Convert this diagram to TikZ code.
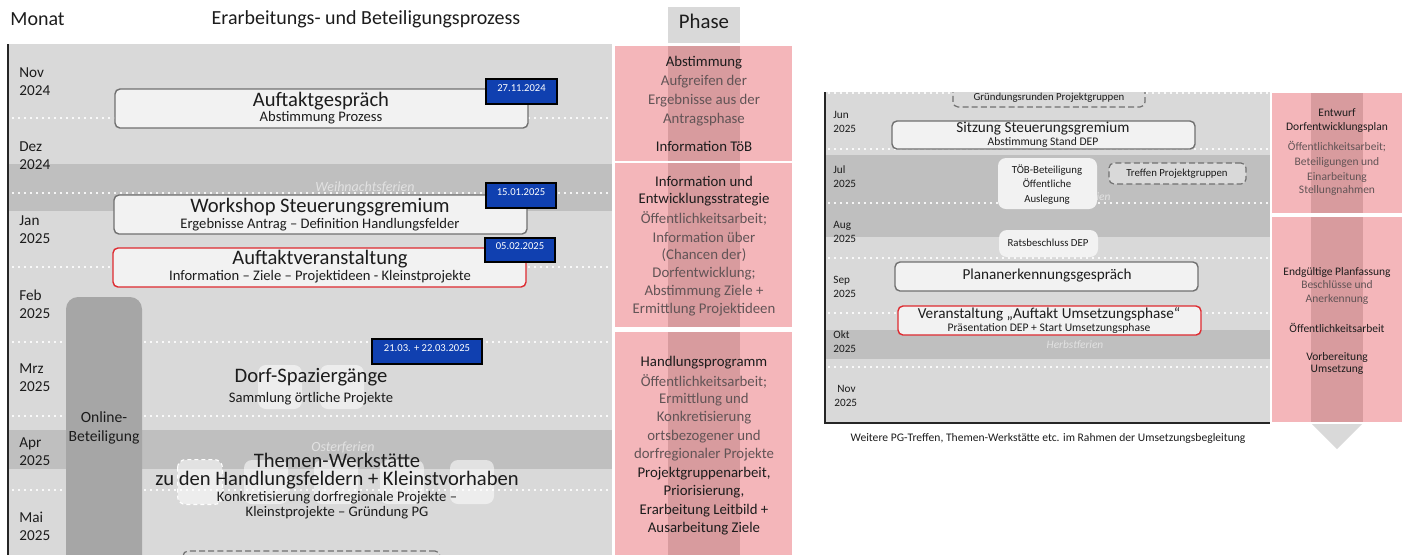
\documentclass[tikz,border=0pt]{standalone}
\usepackage{fontspec}
\setmainfont{Carlito}
\usetikzlibrary{fit}
\definecolor{panel}{RGB}{217,217,217}
\definecolor{band}{RGB}{191,191,191}
\definecolor{boxfill}{RGB}{242,242,242}
\definecolor{boxline}{RGB}{112,112,112}
\definecolor{redline}{RGB}{222,42,48}
\definecolor{dateblue}{RGB}{16,64,176}
\definecolor{online}{RGB}{166,166,166}
\definecolor{pinkbox}{RGB}{244,182,186}
\definecolor{pinkdark}{RGB}{216,155,158}
\definecolor{txt}{RGB}{28,28,28}
\definecolor{txtlight}{RGB}{98,84,86}
\definecolor{ferien}{RGB}{226,226,226}
\newcommand\fsz[2]{\fontsize{#1}{#2}\selectfont}
\begin{document}
\begin{tikzpicture}[x=0.5pt,y=-0.5pt,
  box/.style={draw=boxline, fill=boxfill, rounded corners=2.5pt, line width=0.7pt, inner sep=0pt},
  redbox/.style={box, draw=redline},
  datebox/.style={draw=black, fill=dateblue, line width=0.8pt, inner sep=0pt, text=white, font=\fsz{5.3pt}{6pt}},
  softbox/.style={fill=boxfill, rounded corners=4pt, inner sep=0pt},
  ghost/.style={fill=white, fill opacity=0.55, rounded corners=4pt, inner sep=0pt},
  dashbox/.style={draw=boxline, fill=panel, dash pattern=on 3pt off 1.6pt, rounded corners=2.5pt, line width=0.6pt, inner sep=0pt},
  dotline/.style={white, line width=0.9pt, dash pattern=on 0.9pt off 2.1pt, opacity=0.85},
  head/.style={font=\fsz{10pt}{12pt}, text=txt, inner sep=0pt},
  mon/.style={anchor=west, align=left, font=\fsz{7.6pt}{9pt}, text=txt, inner sep=0pt},
  monR/.style={anchor=west, align=left, font=\fsz{5.6pt}{7pt}, text=txt, inner sep=0pt},
  tA/.style={font=\fsz{10.3pt}{12pt}, text=txt, inner sep=0pt},
  tB/.style={font=\fsz{7.3pt}{9pt}, text=txt, inner sep=0pt},
  tC/.style={font=\fsz{7.6pt}{9pt}, text=txt, inner sep=0pt},
  tD/.style={font=\fsz{5.8pt}{7pt}, text=txt, inner sep=0pt},
  tE/.style={font=\fsz{5.4pt}{7pt}, text=txt, inner sep=0pt},
  fer/.style={font=\fsz{7pt}{8pt}\itshape, text=ferien, inner sep=0pt},
  ferR/.style={font=\fsz{5.7pt}{7pt}\itshape, text=ferien, inner sep=0pt},
  ph/.style={font=\fsz{7.4pt}{9pt}, text=txt, inner sep=0pt},
  phl/.style={ph, text=txtlight},
  pr/.style={font=\fsz{5.75pt}{7pt}, text=txt, inner sep=0pt},
  prl/.style={pr, text=txtlight}
]
\useasboundingbox (0,0) rectangle (1404,554);
\clip (0,0) rectangle (1404,554);

% ---------- headers ----------
\node[head, anchor=west] (hMonat) at (10,19) {Monat};
\node[head] (hProz) at (366,19) {Erarbeitungs- und Beteiligungsprozess};
\fill[panel] (668,7) rectangle (740,43);
\node[head, font=\fsz{10.4pt}{12pt}] (hPhase) at (704,21) {Phase};

% ---------- left panel ----------
\fill[panel] (9,44) rectangle (612,560);
\fill[band] (9,164) rectangle (612,211);
\fill[band] (9,430) rectangle (612,469);
\draw[line width=1pt, black!85] (8,44) -- (8,560);
\foreach \yy in {118,193,267,342,416,490} \draw[dotline] (12,\yy) -- (612,\yy);

\node[mon] (mNov) at (19,82) {Nov\\2024};
\node[mon] (mDez) at (19,156) {Dez\\2024};
\node[mon] (mJan) at (19,230) {Jan\\2025};
\node[mon] (mFeb) at (19,304) {Feb\\2025};
\node[mon] (mMrz) at (19,378) {Mrz\\2025};
\node[mon] (mApr) at (19,452) {Apr\\2025};
\node[mon] (mMai) at (19,526) {Mai\\2025};

\node[fer] (fW) at (365,187) {Weihnachtsferien};
\node[fer] (fO) at (343,447) {Osterferien};

% Online-Beteiligung
\node[fill=online, rounded corners=6pt, inner sep=0pt, fit={(66,297) (142,620)}] (online) {};
\node[font=\fsz{7.8pt}{9.5pt}, text=txt, inner sep=0pt, align=center] (onl) at (104,428) {Online-\\Beteiligung};

% Auftaktgespraech
\node[box, fit={(115,89) (528,128)}] (b1) {};
\node[tA] (b1t) at (321,101) {Auftaktgespräch};
\node[tB] (b1s) at (321,118) {Abstimmung Prozess};
\node[datebox, fit={(486,79) (557,104)}] (d1) {27.11.2024};

% Workshop
\node[box, fit={(114,195) (527,234)}] (b2) {};
\node[tA] (b2t) at (320,207) {Workshop Steuerungsgremium};
\node[tB] (b2s) at (320,225) {Ergebnisse Antrag – Definition Handlungsfelder};
\node[datebox, fit={(486,183) (556,208)}] (d2) {15.01.2025};

% Auftaktveranstaltung
\node[redbox, fit={(113,248) (526,287)}] (b3) {};
\node[tA] (b3t) at (320,259) {Auftaktveranstaltung};
\node[tB] (b3s) at (320,277) {Information – Ziele – Projektideen - Kleinstprojekte};
\node[datebox, fit={(485,238) (555,262)}] (d3) {05.02.2025};

% Dorf-Spaziergaenge
\node[ghost, fit={(258,365) (302,409)}] (g1) {};
\node[ghost, fit={(320,365) (364,409)}] (g2) {};
\node[datebox, fit={(372,339) (482,364)}] (d4) {21.03. + 22.03.2025};
\node[tA] (b4t) at (311,377) {Dorf-Spaziergänge};
\node[tB] (b4s) at (311,399) {Sammlung örtliche Projekte};

% Themen-Werkstaette
\node[ghost, fit={(178,460) (222,504)}] (g3) {};
\draw[white, dash pattern=on 2pt off 1.5pt, line width=0.6pt, rounded corners=4pt] (g3.north west) rectangle (g3.south east);
\node[ghost, fit={(244,460) (288,504)}] (g4) {};
\node[ghost, fit={(314,460) (358,504)}] (g5) {};
\node[ghost, fit={(380,460) (424,504)}] (g6) {};
\node[ghost, fit={(450,460) (494,504)}] (g7) {};
\node[tA, align=center, font=\fsz{10.3pt}{9pt}] (b5t) at (337,471) {Themen-Werkstätte\\zu den Handlungsfeldern + Kleinstvorhaben};
\node[tB, align=center, font=\fsz{7.3pt}{7.5pt}] (b5s) at (337,505.5) {Konkretisierung dorfregionale Projekte –\\Kleinstprojekte – Gründung PG};

\node[dashbox, fit={(183,551) (440,590)}] (b6) {};

% ---------- left phase column ----------
\fill[pinkbox] (615,46) rectangle (792,161);
\fill[pinkdark] (668,46) rectangle (740,161);
\fill[pinkbox] (615,163) rectangle (792,327);
\fill[pinkdark] (668,163) rectangle (740,327);
\fill[pinkbox] (615,332) rectangle (792,600);
\fill[pinkdark] (668,332) rectangle (740,600);

\node[ph] (p1a) at (704,63) {Abstimmung};
\node[phl] (p1b) at (704,82) {Aufgreifen der};
\node[phl] (p1c) at (704,101) {Ergebnisse aus der};
\node[phl] (p1d) at (704,120) {Antragsphase};
\node[ph] (p1e) at (704,146) {Information TöB};

\node[ph] (p2a) at (704,181) {Information und};
\node[ph] (p2b) at (704,200) {Entwicklungsstrategie};
\node[phl] (p2c) at (704,219) {Öffentlichkeitsarbeit;};
\node[phl] (p2d) at (704,237) {Information über};
\node[phl] (p2e) at (704,255) {(Chancen der)};
\node[phl] (p2f) at (704,274) {Dorfentwicklung;};
\node[phl] (p2g) at (704,292) {Abstimmung Ziele +};
\node[phl] (p2h) at (704,310) {Ermittlung Projektideen};

\node[ph] (p3a) at (704,363) {Handlungsprogramm};
\node[phl] (p3b) at (704,381) {Öffentlichkeitsarbeit;};
\node[phl] (p3c) at (704,400) {Ermittlung und};
\node[phl] (p3d) at (704,418) {Konkretisierung};
\node[phl] (p3e) at (704,437) {ortsbezogener und};
\node[phl] (p3f) at (704,455) {dorfregionaler Projekte};
\node[ph] (p3g) at (704,474) {Projektgruppenarbeit,};
\node[ph] (p3h) at (704,492) {Priorisierung,};
\node[ph] (p3i) at (704,511) {Erarbeitung Leitbild +};
\node[ph] (p3j) at (704,529) {Ausarbeitung Ziele};

% ---------- right panel ----------
\begin{scope}
\clip (826,92) rectangle (1270,423);
\fill[panel] (826,92) rectangle (1270,423);
\fill[band] (826,155) rectangle (1270,237);
\fill[band] (826,330) rectangle (1270,359);
\foreach \yy in {93,149,203,258,313,367} \draw[dotline] (828,\yy) -- (1270,\yy);
\node[ferR] (fS) at (1078,197) {Sommerferien};
\node[ferR] (fH) at (1075,345) {Herbstferien};
\node[dashbox, fit={(953,78) (1145,107)}] (r0) {};
\node[tE] (r0t) at (1049,98) {Gründungsrunden Projektgruppen};
\end{scope}
\draw[line width=1pt, black!85] (825,92) -- (825,423) -- (1270,423);

\node[monR] (rJun) at (833,122) {Jun\\2025};
\node[monR] (rJul) at (833,177) {Jul\\2025};
\node[monR] (rAug) at (833,232) {Aug\\2025};
\node[monR] (rSep) at (833,287) {Sep\\2025};
\node[monR] (rOkt) at (833,342) {Okt\\2025};
\node[monR] (rNov) at (834,396) {\hspace{1.5pt}Nov\\2025};

\node[box, fit={(892,121) (1195,149)}] (r1) {};
\node[tC] (r1t) at (1043,129) {Sitzung Steuerungsgremium};
\node[tD] (r1s) at (1043,142) {Abstimmung Stand DEP};

\node[softbox, fit={(998,158) (1097,209)}] (r2) {};
\node[tE, align=center, font=\fsz{5.4pt}{7.2pt}] (r2t) at (1047,184.5) {TÖB-Beteiligung\\Öffentliche\\Auslegung};

\node[dashbox, fit={(1109,163) (1246,184)}] (r3) {};
\node[tE] (r3t) at (1177,174) {Treffen Projektgruppen};

\node[softbox, fit={(999,230) (1098,257)}] (r4) {};
\node[tE] (r4t) at (1048,243) {Ratsbeschluss DEP};

\node[box, fit={(895,262) (1198,291)}] (r5) {};
\node[tC] (r5t) at (1047,276) {Plananerkennungsgespräch};

\node[redbox, fit={(898,306) (1201,335)}] (r6) {};
\node[tC] (r6t) at (1049,314) {Veranstaltung „Auftakt Umsetzungsphase“};
\node[tD] (r6s) at (1049,328) {Präsentation DEP + Start Umsetzungsphase};

\node[tD] (cap) at (1048,438) {Weitere PG-Treffen, Themen-Werkstätte etc. im Rahmen der Umsetzungsbegleitung};

% ---------- right phase column ----------
\fill[pinkbox] (1272,93) rectangle (1402,213);
\fill[pinkdark] (1311,93) rectangle (1363,213);
\fill[pinkbox] (1272,217) rectangle (1402,422);
\fill[pinkdark] (1311,217) rectangle (1363,422);
\fill[panel] (1312,424) -- (1362,424) -- (1337,449) -- cycle;

\node[pr] (q1a) at (1337,113) {Entwurf};
\node[pr] (q1b) at (1337,127) {Dorfentwicklungsplan};
\node[prl] (q1c) at (1337,147) {Öffentlichkeitsarbeit;};
\node[prl] (q1d) at (1337,162) {Beteiligungen und};
\node[prl] (q1e) at (1337,177) {Einarbeitung};
\node[prl] (q1f) at (1337,190) {Stellungnahmen};

\node[pr] (q2a) at (1337,272) {Endgültige Planfassung};
\node[prl] (q2b) at (1337,285) {Beschlüsse und};
\node[prl] (q2c) at (1337,299) {Anerkennung};
\node[pr] (q2d) at (1337,328) {Öffentlichkeitsarbeit};
\node[pr] (q2e) at (1337,357) {Vorbereitung};
\node[pr] (q2f) at (1337,370) {Umsetzung};
\end{tikzpicture}
\end{document}
